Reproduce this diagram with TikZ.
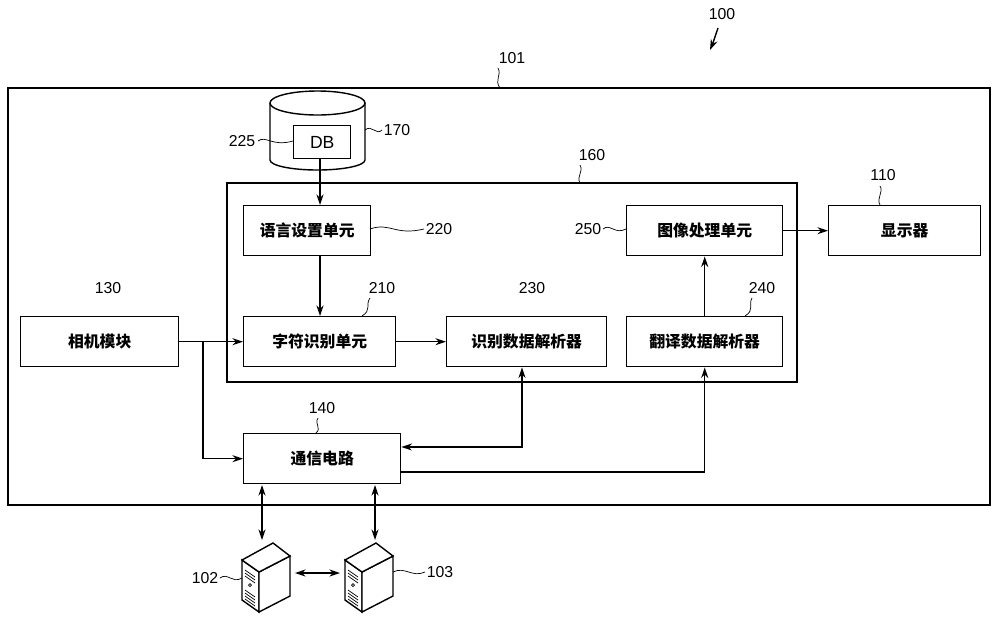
\documentclass[tikz,border=0pt]{standalone}
\usepackage{fontspec}
\setmainfont{Liberation Sans}
\newfontfamily\cjk{Noto Sans CJK SC}
\usetikzlibrary{arrows.meta, positioning, shapes.geometric}

\newcommand{\srvbox}[2]{% #1 = x, #2 = name
  \begin{scope}[shift={(#1,0)}]
    \draw[thick, fill=white] (0,560) -- (17,572) -- (17,612) -- (0,600) -- cycle;
    \draw[thick, fill=white] (17,572) -- (48,556) -- (48,596) -- (17,612) -- cycle;
    \draw[thick, fill=white] (0,560) -- (31,543) -- (48,556) -- (17,572) -- cycle;
    \foreach \k in {0,1,2} \draw (3,570+3*\k) -- (13,577+3*\k);
    \draw (8,585) circle (1.5);
    \foreach \k in {0,1,2,3} \draw (3,590+3*\k) -- (13,597+3*\k);
    \coordinate (#2) at (24,578);
  \end{scope}}

\begin{document}
\begin{tikzpicture}[
        x=0.02cm, y=-0.02cm,
        unit/.style={
          rectangle,
          draw,
          thick,
          anchor=north west,
          inner sep=0pt,
          font=\cjk\small\bfseries
        },
        arrow/.style={
          -{Stealth[length=6pt,width=4pt]},
          thick
        },
        darrow/.style={
          {Stealth[length=6pt,width=4pt]}-{Stealth[length=6pt,width=4pt]},
          thick
        },
        num/.style={font=\small},
        lead/.style={thin}
      ]
      \useasboundingbox (0,0) rectangle (1000,616);

      % Frames
      \draw[thick] (8,88) rectangle (990,505);
      \draw[thick] (227,183) rectangle (797,382);

      % Database
      \draw[thick] (270,103) -- (270,160) arc[start angle=180,end angle=360,x radius=47.5,y radius=-10] -- (365,103);
      \draw[thick] (317.5,103) ellipse[x radius=47.5,y radius=12];
      \node[unit, minimum width=57*0.02cm, minimum height=33*0.02cm, font=\normalsize] (db) at (293,125) {DB};

      % Units
      \node[unit, minimum width=127*0.02cm, minimum height=50*0.02cm] (lang) at (243,205) {语言设置单元};
      \node[unit, minimum width=156*0.02cm, minimum height=50*0.02cm] (image) at (626,205) {图像处理单元};
      \node[unit, minimum width=152*0.02cm, minimum height=50*0.02cm] (display) at (828,205) {显示器};
      \node[unit, minimum width=158*0.02cm, minimum height=50*0.02cm] (camera) at (20,316) {相机模块};
      \node[unit, minimum width=152*0.02cm, minimum height=50*0.02cm] (char) at (243,316) {字符识别单元};
      \node[unit, minimum width=160*0.02cm, minimum height=50*0.02cm] (recog) at (446,316) {识别数据解析器};
      \node[unit, minimum width=156*0.02cm, minimum height=50*0.02cm] (trans) at (626,316) {翻译数据解析器};
      \node[unit, minimum width=157*0.02cm, minimum height=50*0.02cm] (comm) at (243,433) {通信电路};

      % Servers
      \srvbox{242}{srvA}
      \srvbox{345}{srvB}

      % Connections
      \draw[arrow] (db.south -| 320,0) -- (lang.north -| 320,0);
      \draw[arrow] (lang.south -| 320,0) -- (char.north -| 320,0);
      \draw[arrow] (camera.east) -- (char.west);
      \draw[arrow] (203,341) |- (comm.west);
      \draw[arrow] (char.east) -- (recog.west);
      \draw[arrow] (trans.north) -- (image.south);
      \draw[arrow] (image.east) -- (display.west);
      \draw[darrow] (comm.east |- 0,447) -| (recog.south -| 522,0);
      \draw[arrow] (comm.east |- 0,472) -| (trans.south);
      \draw[darrow] (262,485) -- (262,540);
      \draw[darrow] (375,485) -- (375,540);
      \draw[darrow] (295,573) -- (340,573);

      % Reference numerals
      \node[num] (n100) at (722,14) {100};
      \draw[-{Stealth[length=6pt,width=4pt]}, thick] (718,28) .. controls (716,36) .. (710,50);
      \node[num] (n101) at (512,58) {101};
      \draw[lead] (498,68) .. controls (502,75) and (494,80) .. (500,88);
      \node[num] (n160) at (592,155) {160};
      \draw[lead] (580,165) .. controls (584,172) and (576,176) .. (580,183);
      \node[num] (n170) at (397,130) {170};
      \draw[lead] (365,130) .. controls (372,124) and (376,136) .. (382,130);
      \node[num] (n225) at (242,141) {225};
      \draw[lead] (258,141) .. controls (266,135) and (272,147) .. (293,141);
      \node[num] (n220) at (439,229) {220};
      \draw[lead] (370,229) .. controls (390,222) and (395,236) .. (424,229);
      \node[num] (n250) at (588,229) {250};
      \draw[lead] (603,229) .. controls (610,223) and (615,235) .. (626,229);
      \node[num] (n110) at (883,175) {110};
      \draw[lead] (880,186) .. controls (884,192) and (876,198) .. (880,205);
      \node[num] (n130) at (108,288) {130};
      \node[num] (n210) at (382,288) {210};
      \draw[lead] (370,298) .. controls (365,305) and (372,310) .. (362,316);
      \node[num] (n230) at (532,288) {230};
      \node[num] (n240) at (762,288) {240};
      \draw[lead] (752,298) .. controls (748,305) and (755,310) .. (745,316);
      \node[num] (n140) at (322,408) {140};
      \draw[lead] (318,418) .. controls (314,424) and (322,428) .. (316,433);
      \node[num] (n102) at (205,578) {102};
      \draw[lead] (220,578) .. controls (228,572) and (232,584) .. (242,578);
      \node[num] (n103) at (440,572) {103};
      \draw[lead] (393,572) .. controls (405,566) and (412,578) .. (425,572);
    \end{tikzpicture}
\end{document}
